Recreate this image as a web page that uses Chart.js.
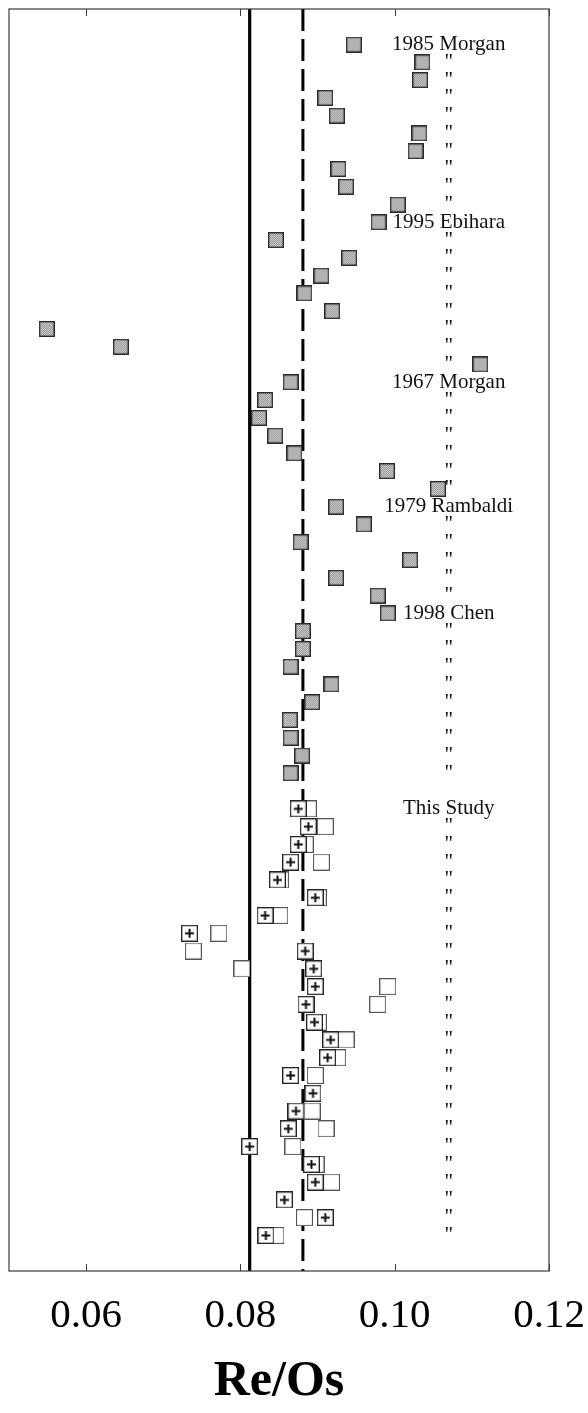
<!DOCTYPE html>
<html>
<head>
<meta charset="utf-8">
<script src="https://cdn.jsdelivr.net/npm/chart.js@4"></script>
<style>
  html, body { margin: 0; padding: 0; background: #fff; }
  canvas { display: block; }
</style>
</head>
<body>
<canvas id="c" width="588" height="1413"></canvas>
<script>
// Row labels, top to bottom ('"' = same source as the row above)
const D = '"';
const rowLabels = [
  "1985 Morgan", D, D, D, D, D, D, D, D, D,
  "1995 Ebihara", D, D, D, D, D, D, D, D,
  "1967 Morgan", D, D, D, D, D, D,
  "1979 Rambaldi", D, D, D, D, D,
  "1998 Chen", D, D, D, D, D, D, D, D, D,
  "",
  "This Study", D, D, D, D, D, D, D, D, D, D, D, D, D, D, D, D, D, D, D, D, D, D, D, D
];

// Published Re/Os values, rows 0-41
const literatureReOs = [
  0.0947, 0.1036, 0.1033, 0.0910, 0.0925, 0.1032, 0.1027, 0.0927, 0.0937, 0.1004,
  0.0979, 0.0846, 0.0941, 0.0905, 0.0883, 0.0919, 0.0549, 0.0645, 0.1111, 0.0865,
  0.0832, 0.0824, 0.0845, 0.0870, 0.0990, 0.1056, 0.0924, 0.0960, 0.0878, 0.1020,
  0.0924, 0.0978, 0.0991, 0.0881, 0.0881, 0.0865, 0.0918, 0.0893, 0.0864, 0.0865,
  0.0880, 0.0865
];

// This study, rows 43-67: marked (+) and open determinations
const studyFirstRow = 43;
const studyPlusReOs = [
  0.0875, 0.0888, 0.0875, 0.0865, 0.0848, 0.0897, 0.0832, 0.0734, 0.0884, 0.0895,
  0.0897, 0.0885, 0.0896, 0.0917, 0.0913, 0.0865, 0.0894, 0.0872, 0.0862, 0.0812,
  0.0892, 0.0897, 0.0857, 0.0910, 0.0833
];
const studyOpenReOs = [
  0.0888, 0.0910, 0.0884, 0.0905, 0.0852, 0.0901, 0.0851, 0.0772, 0.0739, 0.0802,
  0.0991, 0.0978, 0.0901, 0.0937, 0.0926, 0.0897, 0.0894, 0.0893, 0.0911, 0.0868,
  0.0898, 0.0918, 0.0857, 0.0883, 0.0846
];

// Reference ratios: solid and dashed vertical lines
const solidLineReOs = [0.0812];
const dashedLineReOs = [0.0881];

const xTicks = [0.06, 0.08, 0.10, 0.12];

// ---- marker images ----
function grayMarker() {
  const s = 16, c = document.createElement('canvas');
  c.width = s; c.height = s;
  const g = c.getContext('2d');
  for (let y = 1; y < s - 1; y++) {
    for (let x = 1; x < s - 1; x++) {
      g.fillStyle = ((x + y) % 2) ? '#939393' : '#d2d2d2';
      g.fillRect(x, y, 1, 1);
    }
  }
  g.strokeStyle = '#2a2a2a';
  g.lineWidth = 1.4;
  g.strokeRect(0.7, 0.7, s - 1.4, s - 1.4);
  return c;
}
function openMarker() {
  const s = 17, c = document.createElement('canvas');
  c.width = s; c.height = s;
  const g = c.getContext('2d');
  g.fillStyle = '#fff';
  g.fillRect(0, 0, s, s);
  g.strokeStyle = '#555';
  g.lineWidth = 1.1;
  g.strokeRect(0.55, 0.55, s - 1.1, s - 1.1);
  return c;
}
function plusMarker() {
  const s = 17, c = document.createElement('canvas');
  c.width = s; c.height = s;
  const g = c.getContext('2d');
  g.fillStyle = '#fff';
  g.fillRect(0, 0, s, s);
  g.strokeStyle = '#222';
  g.lineWidth = 1.3;
  g.strokeRect(0.65, 0.65, s - 1.3, s - 1.3);
  g.fillStyle = '#111';
  g.fillRect(4, 7.5, 9, 2);
  g.fillRect(7.5, 4, 2, 9);
  return c;
}

const literaturePoints = literatureReOs.map((v, i) => ({ x: v, y: i }));
const plusPoints = studyPlusReOs.map((v, i) => ({ x: v, y: studyFirstRow + i }));
const openPoints = studyOpenReOs.map((v, i) => ({ x: v, y: studyFirstRow + i }));

function verticalLine(v) {
  return [{ x: v, y: -2 }, { x: v, y: 69 }];
}

// Frame, inward tick marks and the row labels column
const framePlugin = {
  id: 'frame',
  afterDatasetsDraw(chart, args, opts) {
    const { ctx, chartArea: a, scales: { x, y } } = chart;
    ctx.save();
    ctx.strokeStyle = '#3a3a3a';
    ctx.lineWidth = 1.2;
    ctx.strokeRect(a.left, a.top, a.right - a.left, a.bottom - a.top);
    ctx.lineWidth = 1;
    x.ticks.forEach(t => {
      const px = Math.round(x.getPixelForValue(t.value)) + 0.5;
      ctx.beginPath();
      ctx.moveTo(px, a.top); ctx.lineTo(px, a.top + 7);
      ctx.moveTo(px, a.bottom); ctx.lineTo(px, a.bottom - 7);
      ctx.stroke();
    });
    ctx.font = '21px "Liberation Serif"';
    ctx.fillStyle = '#111';
    ctx.textAlign = 'center';
    ctx.textBaseline = 'middle';
    const lx = x.getPixelForValue(opts.labelX);
    rowLabels.forEach((t, i) => {
      if (t) ctx.fillText(t, lx, y.getPixelForValue(i));
    });
    ctx.restore();
  }
};

new Chart(document.getElementById('c'), {
  type: 'scatter',
  data: {
    datasets: [
      {
        label: 'This study (+)',
        data: plusPoints,
        pointStyle: plusMarker(),
        pointRadius: 8,
        order: 1
      },
      {
        label: 'This study (open)',
        data: openPoints,
        pointStyle: openMarker(),
        pointRadius: 8,
        order: 2
      },
      {
        label: 'Published',
        data: literaturePoints,
        pointStyle: grayMarker(),
        pointRadius: 8,
        order: 3
      },
      {
        type: 'line',
        label: 'solid',
        data: verticalLine(solidLineReOs[0]),
        showLine: true,
        borderColor: '#000',
        borderWidth: 3.2,
        pointRadius: 0,
        order: 5
      },
      {
        type: 'line',
        label: 'dashed',
        data: verticalLine(dashedLineReOs[0]),
        showLine: true,
        borderColor: '#000',
        borderWidth: 3,
        borderDash: [22, 8],
        pointRadius: 0,
        order: 5
      }
    ]
  },
  options: {
    responsive: false,
    animation: false,
    devicePixelRatio: 1,
    events: [],
    layout: { padding: { left: 9, right: 39, top: 9, bottom: 0 } },
    plugins: {
      legend: { display: false },
      tooltip: { enabled: false },
      frame: { labelX: 0.107 }
    },
    scales: {
      x: {
        type: 'linear',
        min: 0.05,
        max: 0.12,
        afterBuildTicks: s => { s.ticks = xTicks.map(v => ({ value: v })); },
        afterFit: s => { s.paddingLeft = 0; s.paddingRight = 0; },
        grid: { display: false, drawTicks: false },
        border: { display: false },
        ticks: {
          autoSkip: false,
          maxRotation: 0,
          padding: 24.5,
          color: '#000',
          font: { family: 'Liberation Serif', size: 41, lineHeight: 1 },
          callback: v => Number(v).toFixed(2)
        },
        title: {
          display: true,
          text: 'Re/Os',
          color: '#000',
          font: { family: 'Liberation Serif', size: 50, weight: 'bold', lineHeight: 0.8 },
          padding: { top: 1, bottom: 11 }
        }
      },
      y: {
        type: 'linear',
        min: -2,
        max: 69,
        reverse: true,
        display: false
      }
    }
  },
  plugins: [framePlugin]
});
</script>
</body>
</html>
